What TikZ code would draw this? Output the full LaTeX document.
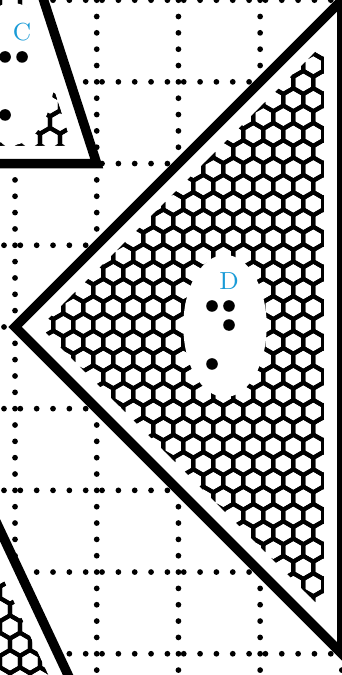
\documentclass[tikz,border=0pt]{standalone}
\usepackage{tikz}
\definecolor{labelblue}{RGB}{25,155,215}
\tikzset{
  gridline/.style={line width=2pt,line cap=round,dash pattern=on 0pt off 0.2cm},
  tileedge/.style={line width=3.3pt,line join=miter},
  hexline/.style={line width=1.45pt},
  tilelabel/.style={text=labelblue,font=\fontsize{8.6}{10}\selectfont,inner sep=0pt}
}

\begin{document}
\begin{tikzpicture}
  \path[use as bounding box,clip] (-0.184,-4.26) rectangle (4.002,4.002);
  % dotted grid
  \foreach \x in {0,...,4}
  {\draw[gridline] (\x,-4.4) -- (\x,4.4);}
  \foreach \y in {-4,...,4}
  {\draw[gridline] (-0.335,\y) -- (4.4,\y);}
  % tile C
  \coordinate (C1) at (1,2);
  \coordinate (C2) at (-2,2);
  \coordinate (C3) at (-0.5,6.617);
  \fill[white] (C1) -- (C2) -- (C3) -- cycle;
  \begin{scope}
    \clip (0.697,2.22) -- (-0.044,4.5) -- (-1,4.5) -- (-1,2.22) -- cycle;
    \foreach \j in {0,...,12}
    \foreach \i in {0,...,5}
    {\draw[hexline] ({-0.306+\i*0.2448+mod(\j,2)*0.1224},{1.871+\j*0.212})
      +(30:0.1413) -- +(90:0.1413) -- +(150:0.1413) -- +(210:0.1413)
      -- +(270:0.1413) -- +(330:0.1413) -- cycle;}
  \end{scope}
  \fill[white] (-0.037,3.097) ellipse (0.52 and 0.87);
  \node[tilelabel] (labC) at (0.086,3.611) {C};
  \foreach \x/\y in {-0.122/3.305, 0.086/3.305, -0.122/2.595}
  {\fill (\x,\y) circle (0.071);}
  \draw[tileedge] (C1) -- (C2) -- (C3) -- cycle;
  % tile D
  \coordinate (D1) at (0,0);
  \coordinate (D2) at (4,4);
  \coordinate (D3) at (4,-4);
  \fill[white] (D1) -- (D2) -- (D3) -- cycle;
  \begin{scope}
    \clip (0.311,0) -- (3.78,3.469) -- (3.78,-3.469) -- cycle;
    \foreach \j in {0,...,36}
    \foreach \i in {0,...,16}
    {\draw[hexline] ({-0.1432+\i*0.2448+mod(\j,2)*0.1224},{-3.7915+\j*0.212})
      +(30:0.1413) -- +(90:0.1413) -- +(150:0.1413) -- +(210:0.1413)
      -- +(270:0.1413) -- +(330:0.1413) -- cycle;}
  \end{scope}
  \fill[white] (2.57,0.012) ellipse (0.51 and 0.87);
  \node[tilelabel] (labD) at (2.619,0.563) {D};
  \foreach \x/\y in {2.411/0.257, 2.619/0.257, 2.619/0.024, 2.411/-0.453}
  {\fill (\x,\y) circle (0.071);}
  \draw[tileedge] (D1) -- (D2) -- (D3) -- cycle;
  % tile below left
  \coordinate (B1) at (-0.413,-2);
  \coordinate (B2) at (0.809,-4.6);
  \coordinate (B3) at (-3,-4.6);
  \fill[white] (B1) -- (B2) -- (B3) -- cycle;
  \begin{scope}
    \clip (-0.657,-2) -- (0.565,-4.6) -- (-1,-4.6) -- (-1,-2) -- cycle;
    \foreach \j in {0,...,12}
    \foreach \i in {0,...,4}
    {\draw[hexline] ({-0.306+\i*0.2448+mod(\j,2)*0.1224},{-4.52+\j*0.212})
      +(30:0.1413) -- +(90:0.1413) -- +(150:0.1413) -- +(210:0.1413)
      -- +(270:0.1413) -- +(330:0.1413) -- cycle;}
  \end{scope}
  \draw[tileedge] (B1) -- (B2) -- (B3) -- cycle;
\end{tikzpicture}
\end{document}
